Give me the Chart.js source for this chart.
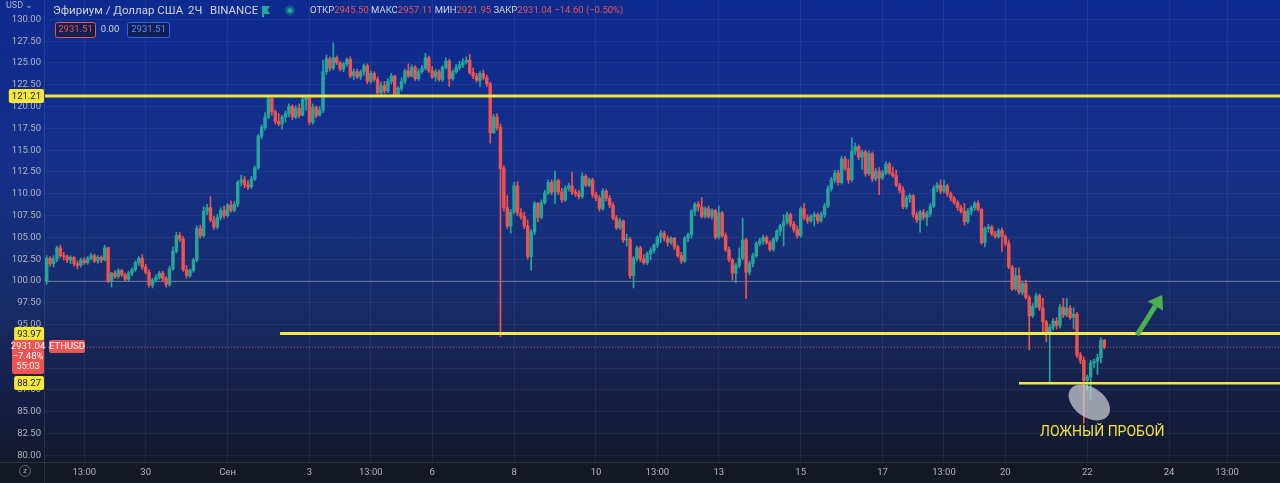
<!DOCTYPE html>
<html>
<head>
<meta charset="utf-8">
<script src="https://cdn.jsdelivr.net/npm/chart.js@4.4.1/dist/chart.umd.min.js"></script>
<style>
  html, body { margin: 0; padding: 0; background: #131722; }
  #chart { display: block; }
</style>
</head>
<body>
<canvas id="chart" width="1280" height="483"></canvas>
<script>
// 2h candles, percent scale (100 = first close)
var opens = [
  100.0,102.6,102.0,102.5,103.8,102.9,102.8,102.4,102.7,102.0,
  101.8,102.4,102.1,102.6,102.9,102.3,102.7,102.4,103.8,100.0,
  100.9,100.5,101.2,100.7,100.2,100.9,101.3,102.1,102.6,101.6,
  101.0,99.5,100.1,100.4,100.9,100.3,99.6,101.4,103.4,105.2,
  104.8,101.3,100.6,101.2,102.4,106.0,105.2,108.0,108.4,107.0,
  106.2,107.3,108.1,107.5,108.7,108.1,108.8,111.3,111.6,111.0,
  110.8,111.7,113.0,116.6,117.6,118.8,120.9,119.4,118.3,118.0,
  118.8,119.2,120.0,118.8,119.8,119.0,120.8,121.0,118.2,119.9,
  119.0,119.6,124.0,125.5,124.4,125.6,125.0,124.3,124.9,125.4,
  123.5,124.0,123.4,124.0,124.7,122.9,123.8,123.1,121.6,122.4,
  121.8,122.9,123.5,121.4,122.1,122.9,124.1,123.5,124.5,123.2,
  124.0,124.4,125.6,124.1,123.4,124.0,123.1,124.5,125.2,123.2,
  124.0,124.5,124.8,125.1,125.3,123.9,123.5,123.0,123.8,123.3,
  122.6,117.0,118.8,117.6,112.9,108.4,106.3,107.9,110.9,107.8,
  107.4,106.3,102.8,105.6,108.9,107.3,109.0,110.1,111.3,110.2,
  111.5,110.2,109.3,110.6,110.9,110.2,110.0,109.7,112.0,111.0,
  111.6,109.9,109.5,108.3,110.3,109.5,108.7,107.2,106.1,106.9,
  104.7,104.8,100.6,102.6,103.8,102.5,102.1,103.1,103.5,104.1,
  105.0,105.5,104.9,104.4,104.9,103.9,102.9,102.3,104.9,105.3,
  108.0,108.8,108.5,107.4,108.3,107.4,108.1,105.0,107.8,105.2,
  103.6,102.4,100.9,101.8,102.6,104.7,101.0,102.0,102.9,104.3,
  104.6,105.0,104.4,103.6,104.8,105.7,106.3,106.8,107.6,106.5,
  105.9,105.2,108.3,107.3,106.9,107.4,107.6,106.9,107.6,108.6,
  110.6,111.6,112.4,111.3,114.0,112.9,111.6,114.9,115.4,114.2,
  114.8,112.3,114.6,111.7,112.6,111.8,112.4,113.4,112.4,112.1,
  111.0,110.4,108.5,109.5,109.8,107.6,107.0,107.9,107.3,107.7,
  108.6,110.6,111.0,110.3,110.9,110.0,109.5,109.0,108.4,108.0,
  106.8,108.0,108.4,108.9,108.2,104.4,106.0,106.2,105.4,105.1,
  105.8,105.1,104.3,101.6,99.1,100.6,98.7,99.7,98.1,96.0,
  97.1,98.3,96.9,95.3,93.9,94.7,95.4,94.9,97.0,96.1,
  96.9,95.8,96.2,91.5,90.9,88.6,89.0,90.6,90.8,91.2,93.2
];
var highs = [
  102.9,102.8,102.9,104.0,104.1,103.3,103.0,102.9,102.8,102.3,
  102.6,102.7,102.8,103.2,103.1,102.9,102.9,104.1,103.9,101.0,
  101.2,101.4,101.3,100.9,101.1,101.5,102.3,102.8,103.0,101.9,
  101.3,100.3,100.7,101.1,101.1,100.5,101.7,103.9,105.6,105.6,
  105.1,101.8,101.4,102.6,106.3,106.4,108.5,108.8,109.7,107.4,
  107.6,108.4,108.6,108.9,109.2,109.1,111.5,112.1,112.0,111.5,
  112.0,113.2,116.8,117.9,119.3,121.3,121.2,119.6,119.2,119.0,
  119.5,120.3,120.2,120.1,120.3,121.1,121.3,121.1,120.3,120.1,
  120.0,125.3,125.9,125.7,127.3,125.8,125.2,125.1,125.6,125.7,
  124.3,124.3,124.2,124.9,124.9,124.1,124.0,123.4,122.8,122.9,
  123.2,123.8,123.6,122.3,123.3,124.3,124.9,124.8,124.7,124.3,
  124.7,126.1,125.8,124.6,124.3,124.2,124.7,125.6,125.4,124.2,
  124.8,125.2,125.5,125.7,126.0,124.4,123.8,124.0,124.2,123.6,
  122.8,119.1,119.2,118.0,113.2,109.8,108.2,111.3,111.4,108.3,
  107.9,107.0,105.9,109.1,109.0,109.3,110.4,111.6,111.6,112.6,
  111.7,110.6,110.9,111.2,112.5,110.5,110.4,112.4,112.2,111.8,
  111.8,110.2,109.8,110.6,110.5,109.8,109.0,107.5,107.2,107.0,
  105.4,105.0,102.8,104.0,104.0,103.0,103.3,103.8,104.3,105.2,
  105.8,105.7,105.2,105.1,105.0,104.1,103.3,105.1,105.5,108.2,
  109.0,109.1,109.6,108.5,108.6,108.3,108.2,108.6,108.0,105.5,
  103.9,102.6,102.0,103.8,107.2,104.9,102.3,103.2,104.5,104.9,
  105.3,105.2,104.6,105.0,105.9,106.5,107.6,107.9,107.8,106.8,
  106.3,108.5,108.9,107.6,107.6,107.9,107.8,107.9,108.9,110.9,
  111.9,112.7,112.7,114.3,114.3,113.9,116.4,115.8,115.6,115.0,
  115.0,114.9,114.8,112.9,113.0,112.7,113.7,113.6,113.1,112.7,
  111.2,110.8,109.8,110.0,109.9,107.9,108.1,108.2,108.0,108.9,
  110.9,111.3,111.6,111.6,111.1,110.2,109.7,109.2,108.7,108.9,
  108.3,108.6,109.1,109.2,108.3,106.2,106.5,106.4,105.7,106.0,
  106.1,105.3,104.7,101.8,101.5,101.5,100.0,100.1,98.3,97.4,
  98.6,98.5,98.0,95.5,95.0,95.7,95.8,97.3,98.0,98.0,
  97.2,96.9,96.4,91.8,91.3,89.2,90.9,91.0,91.6,93.5,93.3
];
var lows = [
  99.6,101.7,101.6,102.2,102.7,102.4,102.1,102.0,101.7,101.4,
  101.6,101.9,101.9,102.4,102.1,102.0,102.1,102.3,99.8,99.3,
  100.3,100.3,100.5,100.0,100.0,100.6,101.1,101.8,101.3,100.8,
  99.3,99.2,99.9,100.2,100.0,99.3,99.4,101.2,103.2,104.5,
  101.1,100.3,100.4,101.0,102.2,104.9,105.0,107.6,106.8,105.9,
  106.0,107.0,107.2,107.3,107.9,107.9,108.5,110.9,110.7,110.5,
  110.6,111.5,112.8,116.3,117.3,118.6,119.0,118.0,117.8,117.4,
  118.2,118.8,118.5,118.6,118.7,118.9,119.6,117.9,118.0,118.7,
  118.9,119.3,123.7,124.1,124.2,124.8,124.1,124.0,124.6,123.3,
  123.1,123.2,123.1,123.6,122.6,122.7,122.9,121.4,121.4,121.5,
  121.6,122.6,121.2,121.2,121.8,122.6,123.3,123.4,123.0,123.0,
  123.8,124.2,123.9,123.2,122.9,122.9,122.9,124.3,122.3,123.0,
  123.8,124.2,124.5,124.9,123.7,123.2,122.8,122.3,123.1,122.3,
  115.8,116.9,117.3,93.6,108.0,106.0,105.5,107.7,107.5,107.1,
  106.0,102.5,101.2,105.3,106.8,107.1,108.8,109.9,109.9,108.9,
  109.9,109.0,109.1,110.3,109.9,109.7,109.4,109.5,110.8,110.8,
  109.6,109.2,108.0,108.1,109.2,108.4,107.0,105.9,105.9,104.4,
  104.0,100.3,99.2,102.3,102.2,101.9,101.9,102.4,103.2,103.8,
  104.4,104.6,104.0,104.2,103.6,102.7,102.0,102.1,104.5,104.9,
  107.5,108.0,107.2,107.2,107.2,107.1,104.8,104.8,105.0,103.4,
  102.2,100.1,99.8,101.5,102.4,98.0,100.7,101.6,102.7,104.0,
  104.2,104.2,103.4,103.4,104.5,105.2,104.0,106.5,106.2,105.6,
  104.9,105.0,107.0,106.6,106.7,106.3,106.6,106.7,107.3,108.4,
  110.3,111.3,111.0,111.1,112.7,111.2,111.4,114.5,113.9,112.8,
  112.0,112.1,111.4,111.5,109.9,111.6,112.2,112.2,111.9,110.8,
  110.1,108.3,108.3,109.0,107.3,106.7,105.6,107.0,106.3,107.4,
  108.4,110.2,110.0,110.1,109.7,109.2,108.8,108.1,107.8,106.4,
  106.6,107.6,108.1,108.0,104.2,103.9,105.6,105.2,104.9,104.9,
  103.4,104.0,101.4,98.9,98.9,98.5,98.4,97.9,92.1,95.8,
  96.9,96.6,94.1,93.0,88.3,94.4,94.5,94.6,95.8,95.9,
  95.6,94.5,91.2,90.5,83.7,87.5,86.4,90.1,89.3,90.6,92.2
];
var closes = [
  102.6,102.0,102.5,103.8,102.9,102.8,102.4,102.7,102.0,101.8,
  102.4,102.1,102.6,102.9,102.3,102.7,102.4,103.8,100.0,100.9,
  100.5,101.2,100.7,100.2,100.9,101.3,102.1,102.6,101.6,101.0,
  99.5,100.1,100.4,100.9,100.3,99.6,101.4,103.4,105.2,104.8,
  101.3,100.6,101.2,102.4,106.0,105.2,108.0,108.4,107.0,106.2,
  107.3,108.1,107.5,108.7,108.1,108.8,111.3,111.6,111.0,110.8,
  111.7,113.0,116.6,117.6,118.8,120.9,119.4,118.3,118.0,118.8,
  119.2,120.0,118.8,119.8,119.0,120.8,121.0,118.2,119.9,119.0,
  119.6,124.0,125.5,124.4,125.6,125.0,124.3,124.9,125.4,123.5,
  124.0,123.4,124.0,124.7,122.9,123.8,123.1,121.6,122.4,121.8,
  122.9,123.5,121.4,122.1,122.9,124.1,123.5,124.5,123.2,124.0,
  124.4,125.6,124.1,123.4,124.0,123.1,124.5,125.2,123.2,124.0,
  124.5,124.8,125.1,125.3,123.9,123.5,123.0,123.8,123.3,122.6,
  117.0,118.8,117.6,112.9,108.4,106.3,107.9,110.9,107.8,107.4,
  106.3,102.8,105.6,108.9,107.3,109.0,110.1,111.3,110.2,111.5,
  110.2,109.3,110.6,110.9,110.2,110.0,109.7,112.0,111.0,111.6,
  109.9,109.5,108.3,110.3,109.5,108.7,107.2,106.1,106.9,104.7,
  104.8,100.6,102.6,103.8,102.5,102.1,103.1,103.5,104.1,105.0,
  105.5,104.9,104.4,104.9,103.9,102.9,102.3,104.9,105.3,108.0,
  108.8,108.5,107.4,108.3,107.4,108.1,105.0,107.8,105.2,103.6,
  102.4,100.9,101.8,102.6,104.7,101.0,102.0,102.9,104.3,104.6,
  105.0,104.4,103.6,104.8,105.7,106.3,106.8,107.6,106.5,105.9,
  105.2,108.3,107.3,106.9,107.4,107.6,106.9,107.6,108.6,110.6,
  111.6,112.4,111.3,114.0,112.9,111.6,114.9,115.4,114.2,114.8,
  112.3,114.6,111.7,112.6,111.8,112.4,113.4,112.4,112.1,111.0,
  110.4,108.5,109.5,109.8,107.6,107.0,107.9,107.3,107.7,108.6,
  110.6,111.0,110.3,110.9,110.0,109.5,109.0,108.4,108.0,106.8,
  108.0,108.4,108.9,108.2,104.4,106.0,106.2,105.4,105.1,105.8,
  105.1,104.3,101.6,99.1,100.6,98.7,99.7,98.1,96.0,97.1,
  98.3,96.9,95.3,93.9,94.7,95.4,94.9,97.0,96.1,96.9,
  95.8,96.2,91.5,90.9,88.6,89.0,90.6,90.8,91.2,93.2,92.4
];

// time axis: one slot per 2h bar, incl. empty future slots on the right
var slotCount = 362;
var firstBar = Date.UTC(2021, 7, 27, 15);
var tickSlots  = [11, 29, 53, 77, 95, 113, 137, 161, 179, 197, 221, 245, 263, 281, 305, 329, 346];
var tickLabels = ['13:00','30','Сен','3','13:00','6','8','10','13:00','13','15','17','13:00','20','22','24','13:00'];
var yTicks = [80,82.5,85,87.5,90,92.5,95,97.5,100,102.5,105,107.5,110,112.5,115,117.5,120,122.5,125,127.5,130];

// drawn levels and their labels
var levels = [121.21, 93.97, 88.27];
var levelFrom = [-0.5, 68.4, 285];
var levelWidth = [3, 3, 2.5];
var lastPrice = 92.4;
var baseValue = 100;

var categories = [];
for (var i = 0; i < slotCount; i++) {
  var d = new Date(firstBar + i * 7200000);
  categories.push(d.getUTCDate() + ' ' + String(d.getUTCHours()).padStart(2, '0') + ':00');
}

var UP = '#26a69a', DOWN = '#ef5350', YEL = '#f6e83a';
var barColors = closes.map(function (c, i) { return c >= opens[i] ? UP : DOWN; });
var bodies = opens.map(function (o, i) { return [o, closes[i]]; });
var wicks = lows.map(function (l, i) { return [l, highs[i]]; });

function roundRect(ctx, x, y, w, h, r) {
  ctx.beginPath();
  ctx.moveTo(x + r, y);
  ctx.arcTo(x + w, y, x + w, y + h, r);
  ctx.arcTo(x + w, y + h, x, y + h, r);
  ctx.arcTo(x, y + h, x, y, r);
  ctx.arcTo(x, y, x + w, y, r);
  ctx.closePath();
}

var bgPlugin = {
  id: 'bg',
  beforeDraw: function (chart) {
    var ctx = chart.ctx, a = chart.chartArea;
    ctx.save();
    var g = ctx.createLinearGradient(0, 0, 0, a.bottom);
    g.addColorStop(0, '#0d2a8f');
    g.addColorStop(0.35, '#14308a');
    g.addColorStop(0.65, '#182c6a');
    g.addColorStop(0.9, '#141d3e');
    g.addColorStop(1, '#13182b');
    ctx.fillStyle = g;
    ctx.fillRect(0, 0, chart.width, a.bottom);
    ctx.fillStyle = '#131824';
    ctx.fillRect(0, a.bottom, chart.width, chart.height - a.bottom);
    ctx.fillStyle = 'rgba(255,255,255,0.10)';
    ctx.fillRect(0, a.bottom, chart.width, 1);
    ctx.fillRect(a.left - 1, 0, 1, chart.height);
    ctx.restore();
  },
  beforeDatasetsDraw: function (chart) {
    var ctx = chart.ctx, a = chart.chartArea, ys = chart.scales.y;
    ctx.save();
    var yb = Math.round(ys.getPixelForValue(baseValue)) + 0.5;
    ctx.strokeStyle = 'rgba(200,204,215,0.45)';
    ctx.lineWidth = 1;
    ctx.beginPath(); ctx.moveTo(a.left, yb); ctx.lineTo(a.right, yb); ctx.stroke();
    var yp = Math.round(ys.getPixelForValue(lastPrice)) + 0.5;
    ctx.strokeStyle = 'rgba(239,83,80,0.7)';
    ctx.setLineDash([1, 2]);
    ctx.beginPath(); ctx.moveTo(a.left, yp); ctx.lineTo(a.right, yp); ctx.stroke();
    ctx.restore();
  }
};

var drawPlugin = {
  id: 'marks',
  afterDatasetsDraw: function (chart) {
    var ctx = chart.ctx, a = chart.chartArea, xs = chart.scales.x, ys = chart.scales.y;
    ctx.save();
    // horizontal levels
    levels.forEach(function (v, k) {
      var y = ys.getPixelForValue(v);
      ctx.strokeStyle = YEL;
      ctx.lineWidth = levelWidth[k];
      ctx.beginPath();
      ctx.moveTo(Math.max(a.left, xs.getPixelForValue(levelFrom[k])), y);
      ctx.lineTo(a.right, y);
      ctx.stroke();
    });
    // false breakout ellipse
    ctx.fillStyle = 'rgba(205,208,214,0.72)';
    ctx.beginPath();
    ctx.ellipse(xs.getPixelForValue(305.6), ys.getPixelForValue(86.07), 23, 15, 0.61, 0, Math.PI * 2);
    ctx.fill();
    // arrow
    var x0 = xs.getPixelForValue(319.6), y0 = ys.getPixelForValue(93.8);
    var x1 = xs.getPixelForValue(327.0), y1 = ys.getPixelForValue(98.4);
    var ang = Math.atan2(y1 - y0, x1 - x0);
    var hl = 13, hw = 9;
    var bx = x1 - hl * Math.cos(ang), by = y1 - hl * Math.sin(ang);
    ctx.strokeStyle = '#4caf50';
    ctx.fillStyle = '#4caf50';
    ctx.lineWidth = 5;
    ctx.lineCap = 'butt';
    ctx.beginPath(); ctx.moveTo(x0, y0); ctx.lineTo(bx, by); ctx.stroke();
    ctx.beginPath();
    ctx.moveTo(x1, y1);
    ctx.lineTo(bx + hw * Math.sin(ang), by - hw * Math.cos(ang));
    ctx.lineTo(bx - hw * Math.sin(ang), by + hw * Math.cos(ang));
    ctx.closePath(); ctx.fill();
    // caption
    ctx.fillStyle = '#f2e23c';
    ctx.font = '14px Roboto';
    ctx.textAlign = 'center';
    ctx.textBaseline = 'middle';
    ctx.fillText('ЛОЖНЫЙ ПРОБОЙ', xs.getPixelForValue(309.4), ys.getPixelForValue(82.68));
    ctx.restore();
  },
  afterDraw: function (chart) {
    var ctx = chart.ctx, a = chart.chartArea, ys = chart.scales.y;
    ctx.save();
    ctx.textBaseline = 'middle';
    // level tags on the price axis
    ctx.font = '9.5px Roboto';
    levels.forEach(function (v) {
      var y = Math.round(ys.getPixelForValue(v));
      var t = v.toFixed(2);
      var w = ctx.measureText(t).width + 6;
      ctx.fillStyle = YEL;
      roundRect(ctx, a.left - 1 - w, y - 7, w, 14, 2); ctx.fill();
      ctx.fillStyle = '#131722';
      ctx.textAlign = 'center';
      ctx.fillText(t, a.left - 1 - w / 2, y + 0.5);
    });
    // last price tag
    var yp = Math.round(ys.getPixelForValue(lastPrice));
    ctx.fillStyle = '#ef5350';
    roundRect(ctx, 12, yp - 7, a.left - 13, 34, 2); ctx.fill();
    ctx.fillStyle = '#ffffff';
    ctx.textAlign = 'center';
    ctx.fillText('2931.04', 12 + (a.left - 13) / 2, yp);
    ctx.fillText('\u22127.48%', 12 + (a.left - 13) / 2, yp + 10);
    ctx.fillText('55:03', 12 + (a.left - 13) / 2, yp + 20);
    ctx.fillStyle = '#ef5350';
    roundRect(ctx, a.left + 4, yp - 7, 36, 13, 2); ctx.fill();
    ctx.fillStyle = '#ffffff';
    ctx.fillText('ETHUSD', a.left + 22, yp - 0.5);
    // currency and scale mode marks
    ctx.fillStyle = '#b2b5be';
    ctx.textAlign = 'left';
    ctx.font = '9px Roboto';
    ctx.fillText('USD \u2304', 6, 6);
    ctx.strokeStyle = 'rgba(178,181,190,0.5)';
    ctx.lineWidth = 1;
    ctx.beginPath(); ctx.arc(25, 471, 5.5, 0, Math.PI * 2); ctx.stroke();
    ctx.textAlign = 'center';
    ctx.font = '8px Roboto';
    ctx.fillText('z', 25, 471);
    // header
    ctx.textAlign = 'left';
    ctx.font = '11.5px Roboto';
    ctx.fillStyle = '#d1d4dc';
    ctx.fillText('Эфириум / Доллар США', 53, 11);
    ctx.fillText('2Ч', 188, 11);
    ctx.fillText('BINANCE', 210, 11);
    ctx.fillStyle = '#22ab94';
    ctx.beginPath();
    ctx.moveTo(262, 6); ctx.lineTo(270, 6); ctx.lineTo(267.5, 10); ctx.lineTo(270, 14);
    ctx.lineTo(264, 14); ctx.lineTo(264, 17); ctx.lineTo(262, 17); ctx.closePath(); ctx.fill();
    ctx.fillStyle = 'rgba(34,171,148,0.35)';
    ctx.beginPath(); ctx.arc(290, 10.5, 5, 0, Math.PI * 2); ctx.fill();
    ctx.fillStyle = '#22ab94';
    ctx.beginPath(); ctx.arc(290, 10.5, 2.5, 0, Math.PI * 2); ctx.fill();
    var parts = [['ОТКР', '#d1d4dc'], ['2945.50', '#ef5350'], [' МАКС', '#d1d4dc'], ['2957.11', '#ef5350'],
                 [' МИН', '#d1d4dc'], ['2921.95', '#ef5350'], [' ЗАКР', '#d1d4dc'], ['2931.04', '#ef5350'],
                 [' \u221214.60 (\u22120.50%)', '#ef5350']];
    ctx.font = '9.5px Roboto';
    var x = 310;
    parts.forEach(function (p) { ctx.fillStyle = p[1]; ctx.fillText(p[0], x, 11); x += ctx.measureText(p[0]).width; });
    // buy / sell boxes
    ctx.font = '9.5px Roboto';
    ctx.lineWidth = 1;
    ctx.fillStyle = 'rgba(20,24,40,0.6)';
    roundRect(ctx, 55.5, 22.5, 40, 15, 2); ctx.fill();
    ctx.strokeStyle = '#ef5350'; ctx.stroke();
    ctx.fillStyle = '#ef5350';
    ctx.textAlign = 'center';
    ctx.fillText('2931.51', 75.5, 30);
    ctx.fillStyle = '#d1d4dc';
    ctx.fillText('0.00', 110, 30);
    ctx.fillStyle = 'rgba(20,24,40,0.6)';
    roundRect(ctx, 127.5, 22.5, 42, 15, 2); ctx.fill();
    ctx.strokeStyle = '#2962ff'; ctx.stroke();
    ctx.fillStyle = '#5b8cff';
    ctx.fillText('2931.51', 148.5, 30);
    ctx.restore();
  }
};

Chart.defaults.font.family = 'Roboto';

var ctxC = document.getElementById('chart').getContext('2d');
var chart = new Chart(ctxC, {
  type: 'bar',
  data: {
    labels: categories,
    datasets: [
      { label: 'body', data: bodies, backgroundColor: barColors, borderWidth: 0,
        barThickness: 2.8, grouped: false, minBarLength: 1 },
      { label: 'wick', data: wicks, backgroundColor: barColors, borderWidth: 0,
        barThickness: 1, grouped: false }
    ]
  },
  options: {
    responsive: false,
    devicePixelRatio: 1,
    animation: false,
    layout: { padding: 0 },
    plugins: { legend: { display: false }, tooltip: { enabled: false } },
    scales: {
      x: {
        type: 'category',
        offset: true,
        grid: { color: 'rgba(255,255,255,0.06)', offset: false, drawTicks: false },
        border: { display: false },
        ticks: {
          autoSkip: false, maxRotation: 0, color: '#b2b5be', font: { size: 9.5 }, padding: 5,
          callback: function (v) { var k = tickSlots.indexOf(v); return k < 0 ? '' : tickLabels[k]; }
        },
        afterBuildTicks: function (s) { s.ticks = tickSlots.map(function (v) { return { value: v }; }); },
        afterFit: function (s) { s.height = 21; s.paddingLeft = 0; s.paddingRight = 0; }
      },
      y: {
        type: 'linear',
        position: 'left',
        min: 79.24,
        max: 132.22,
        grid: { color: 'rgba(255,255,255,0.06)', drawTicks: false },
        border: { display: false },
        ticks: {
          color: '#b2b5be', font: { size: 9.5 }, padding: 4,
          callback: function (v) { return Number(v).toFixed(2); }
        },
        afterBuildTicks: function (s) { s.ticks = yTicks.map(function (v) { return { value: v }; }); },
        afterFit: function (s) { s.width = 45; s.paddingTop = 0; s.paddingBottom = 0; }
      }
    }
  },
  plugins: [bgPlugin, drawPlugin]
});
</script>
</body>
</html>
